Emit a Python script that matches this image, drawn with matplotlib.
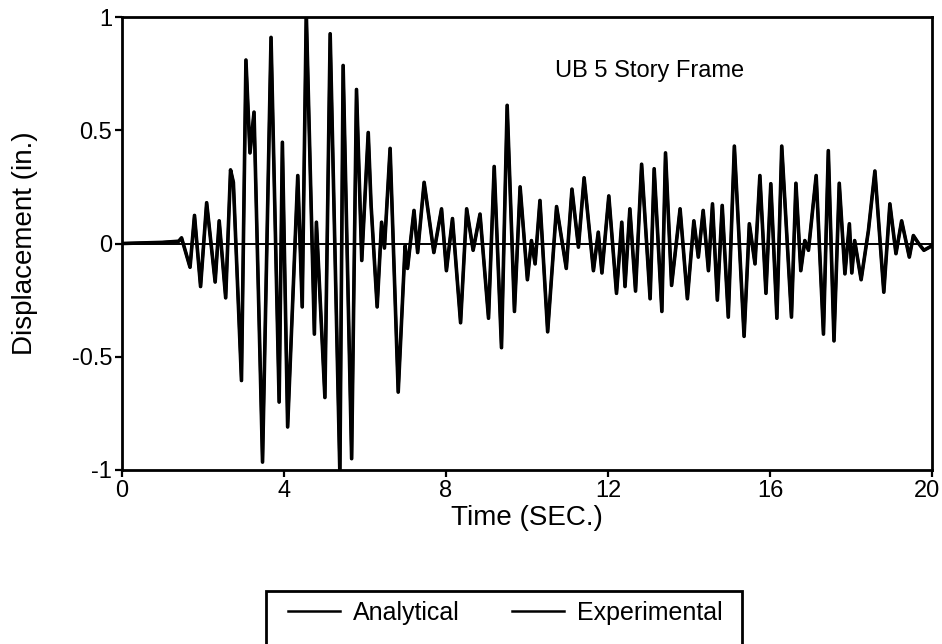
import matplotlib
matplotlib.use("Agg")
import matplotlib.pyplot as plt
from matplotlib.patches import Rectangle
from matplotlib.transforms import ScaledTranslation

plt.rcParams['font.family'] = ['Liberation Sans', 'DejaVu Sans']
plt.rcParams['axes.unicode_minus'] = False

# Time (s) of read-off turning points
time = [0.0, 1.0, 1.4, 1.47, 1.68, 1.79, 1.94, 2.09, 2.30, 2.40, 2.56, 2.68, 2.75,
        2.95, 3.06, 3.16, 3.26, 3.47, 3.68, 3.88, 3.96, 4.09, 4.34, 4.45, 4.55,
        4.75, 4.80, 5.01, 5.14, 5.38, 5.46, 5.67, 5.79, 5.92, 6.08, 6.15, 6.30,
        6.41, 6.48, 6.62, 6.82, 6.99, 7.05, 7.21, 7.30, 7.46, 7.70, 7.89, 8.01,
        8.16, 8.36, 8.51, 8.67, 8.84, 9.05, 9.19, 9.37, 9.51, 9.69, 9.83, 10.01,
        10.11, 10.20, 10.32, 10.51, 10.73, 10.97, 11.11, 11.27, 11.41, 11.64,
        11.76, 11.85, 12.02, 12.21, 12.34, 12.42, 12.54, 12.68, 12.83, 13.04,
        13.14, 13.33, 13.42, 13.57, 13.78, 13.96, 14.12, 14.23, 14.35, 14.48,
        14.58, 14.70, 14.82, 14.97, 15.12, 15.36, 15.49, 15.63, 15.75, 15.90,
        16.02, 16.17, 16.29, 16.53, 16.64, 16.76, 16.86, 16.95, 17.14, 17.32,
        17.44, 17.58, 17.71, 17.85, 17.96, 18.02, 18.09, 18.25, 18.43, 18.59,
        18.81, 18.96, 19.11, 19.25, 19.44, 19.54, 19.67, 19.80, 20.0]

analytical = [0.0, 0.005, 0.01, 0.025, -0.105, 0.124, -0.19, 0.18, -0.17, 0.10, -0.24, 0.325, 0.27,
              -0.605, 0.81, 0.40, 0.58, -0.965, 0.91, -0.70, 0.447, -0.81, 0.30, -0.28, 1.02,
              -0.40, 0.094, -0.68, 0.926, -1.02, 0.786, -0.95, 0.68, -0.075, 0.49, 0.17, -0.28,
              0.094, -0.02, 0.42, -0.656, -0.01, -0.11, 0.146, -0.04, 0.27, -0.04, 0.153, -0.12,
              0.11, -0.35, 0.153, -0.03, 0.13, -0.33, 0.34, -0.46, 0.61, -0.30, 0.25, -0.16,
              0.013, -0.09, 0.19, -0.39, 0.163, -0.11, 0.24, -0.016, 0.29, -0.12,
              0.05, -0.13, 0.21, -0.22, 0.094, -0.19, 0.153, -0.21, 0.35, -0.244,
              0.33, -0.30, 0.40, -0.185, 0.153, -0.244, 0.10, -0.06, 0.146, -0.12,
              0.175, -0.25, 0.168, -0.325, 0.43, -0.41, 0.087, -0.09, 0.30, -0.22,
              0.264, -0.33, 0.43, -0.325, 0.266, -0.12, 0.013, -0.03, 0.30, -0.40,
              0.41, -0.43, 0.266, -0.134, 0.087, -0.13, 0.013, -0.16, 0.057, 0.32,
              -0.215, 0.175, -0.045, 0.10, -0.06, 0.035, 0.0, -0.03, -0.01]

# Experimental record is visually indistinguishable from the analytical one
experimental = list(analytical)

x_ticks = [0, 4, 8, 12, 16, 20]
y_ticks = [-1, -0.5, 0, 0.5, 1]
y_tick_labels = ['-1', '-0.5', '0', '0.5', '1']

W, H = 942, 644
fig = plt.figure(figsize=(W / 100, H / 100), dpi=100)
ax = fig.add_axes([122 / W, 1 - 470 / H, (932 - 122) / W, (470 - 17) / H])

ax.axhline(0, color='black', lw=1.4, zorder=1)
ax.plot(time, analytical, color='black', lw=2.6, solid_joinstyle='round', label='Analytical', zorder=3)
ax.plot(time, experimental, color='black', lw=2.0, solid_joinstyle='round', label='Experimental', zorder=3)

ax.set_xlim(0, 20)
ax.set_ylim(-1, 1)
ax.set_xticks(x_ticks)
ax.set_yticks(y_ticks)
ax.set_yticklabels(y_tick_labels)
ax.tick_params(direction='out', length=5, width=1.6, labelsize=17, pad=2)
for s in ax.spines.values():
    s.set_linewidth(2.0)

# keep the last x tick label inside the figure
last = ax.get_xticklabels()[-1]
last.set_transform(last.get_transform() + ScaledTranslation(-5 / 100, 0, fig.dpi_scale_trans))

ax.set_xlabel('Time (SEC.)', fontsize=20)
ax.xaxis.set_label_coords(0.5, -0.078)
ax.set_ylabel('Displacement (in.)', fontsize=20)
ax.yaxis.set_label_coords(-0.104, 0.5)
ax.text(10.69, 0.737, 'UB 5 Story Frame', fontsize=17, ha='left', va='baseline')

# legend frame (extends below the figure edge as in the reference)
fig.patches.append(Rectangle((266 / W, -0.05), (742 - 266) / W, 0.05 + 1 - 591 / H,
                             transform=fig.transFigure, fill=False, edgecolor='black',
                             lw=2.0))
handles, labels = ax.get_legend_handles_labels()
leg = fig.legend(handles, labels, loc='center', bbox_to_anchor=(505 / W, 1 - 613 / H), ncol=2,
                 frameon=False, fontsize=18, handlelength=2.1, handletextpad=0.5,
                 columnspacing=2.1, borderpad=0.0)
for line in leg.get_lines():
    line.set_linewidth(1.8)

fig.savefig('out.png', dpi=100)
